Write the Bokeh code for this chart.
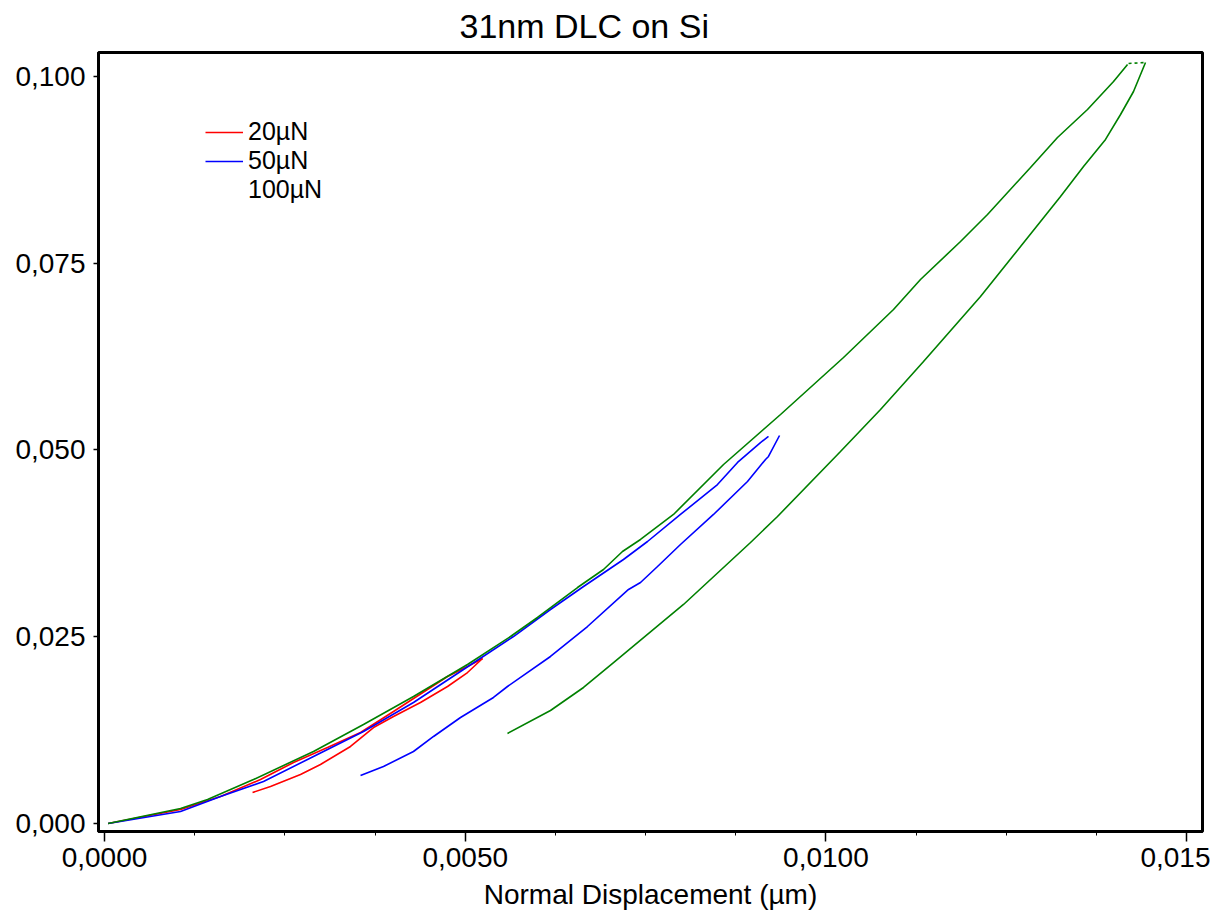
from bokeh.plotting import figure
from bokeh.models import Range1d, FixedTicker, CustomJSTickFormatter, Legend, LegendItem, Title
from bokeh.embed import file_html
from bokeh.resources import INLINE

# ---- data ----
# 100 uN (green)
g_load_x = [0.00005, 0.001054, 0.001428, 0.002065, 0.002897, 0.003590, 0.004283, 0.005032,
            0.005628, 0.006002, 0.006557, 0.006917, 0.007180, 0.007430, 0.007887, 0.008581,
            0.009371, 0.010244, 0.010937, 0.011311, 0.011866, 0.012240, 0.012836, 0.013210,
            0.013626, 0.013987, 0.014181]
g_load_y = [0.0, 0.00201, 0.00321, 0.00589, 0.00964, 0.01325, 0.01700, 0.02129,
            0.02503, 0.02758, 0.03159, 0.03400, 0.03641, 0.03802, 0.04137, 0.04806,
            0.05475, 0.06238, 0.06881, 0.07282, 0.07791, 0.08153, 0.08782, 0.09183,
            0.09558, 0.09933, 0.10161]
g_hold_x = [0.014195, 0.014430]
g_hold_y = [0.10174, 0.10187]
g_unload_x = [0.014430, 0.014264, 0.014084, 0.013876, 0.013571, 0.013252, 0.012698, 0.012143,
              0.011353, 0.010757, 0.010202, 0.009329, 0.008955, 0.008026, 0.007056, 0.006640,
              0.006182, 0.005586]
g_unload_y = [0.10187, 0.09799, 0.09491, 0.09157, 0.08795, 0.08394, 0.07724, 0.07055,
              0.06185, 0.05542, 0.04980, 0.04110, 0.03762, 0.02932, 0.02155, 0.01821,
              0.01513, 0.01205]

# 50 uN (blue)
b_load_x = [0.00005, 0.001054, 0.001608, 0.002204, 0.002897, 0.003590, 0.004283, 0.004976,
            0.005669, 0.006182, 0.006640, 0.007194, 0.007527, 0.007984, 0.008497, 0.008775,
            0.009093, 0.009204]
b_load_y = [0.0, 0.00161, 0.00361, 0.00562, 0.00897, 0.01232, 0.01620, 0.02062,
            0.02503, 0.02865, 0.03173, 0.03534, 0.03775, 0.04137, 0.04538, 0.04833,
            0.05100, 0.05181]
b_unload_x = [0.009357, 0.009204, 0.009163, 0.008913, 0.008442, 0.007984, 0.007666, 0.007430,
              0.007264, 0.006695, 0.006182, 0.005586, 0.005392, 0.004935, 0.004561, 0.004283,
              0.003867, 0.003549]
b_unload_y = [0.05194, 0.04913, 0.04873, 0.04578, 0.04137, 0.03735, 0.03440, 0.03226,
              0.03133, 0.02637, 0.02236, 0.01834, 0.01687, 0.01419, 0.01165, 0.00964,
              0.00763, 0.00643]

# 20 uN (red)
r_load_x = [0.00005, 0.001054, 0.001608, 0.002162, 0.002620, 0.003091, 0.003549, 0.004006,
            0.004477, 0.004755, 0.005032, 0.005240]
r_load_y = [0.0, 0.00187, 0.00361, 0.00589, 0.00817, 0.01017, 0.01218, 0.01499,
            0.01794, 0.01968, 0.02102, 0.02209]
r_unload_x = [0.005240, 0.005032, 0.004755, 0.004380, 0.004006, 0.003729, 0.003410, 0.002994,
              0.002717, 0.002301, 0.002052]
r_unload_y = [0.02209, 0.02021, 0.01834, 0.01620, 0.01432, 0.01285, 0.01031, 0.00790,
              0.00656, 0.00495, 0.00415]

series_labels = ["20µN", "50µN", "100µN"]
x_ticks = [0.0, 0.005, 0.01, 0.015]
x_tick_labels = ["0,0000", "0,0050", "0,0100", "0,015"]
y_ticks = [0.0, 0.025, 0.05, 0.075, 0.1]
y_tick_labels = ["0,000", "0,025", "0,050", "0,075", "0,100"]
title_text = "31nm DLC on Si"
x_label_text = "Normal Displacement (µm)"

RED = "#ff0000"
BLUE = "#0000ff"
GREEN = "#008000"
FONT = "Liberation Sans"

FW, FH = 1104, 779           # frame size
BL, BT, BR, BB = 98, 52, 8, 81
p = figure(width=BL + FW + BR, height=BT + FH + BB, output_backend="svg", toolbar_location=None,
           x_range=Range1d(-0.0000832, 0.01522), y_range=Range1d(-0.00107, 0.10321),
           min_border_left=BL, min_border_right=BR, min_border_top=BT, min_border_bottom=BB,
           title=None)
p.grid.visible = False
p.background_fill_color = "white"
p.outline_line_color = "black"
p.outline_line_width = 3
p.outline_line_alpha = 1.0

# a thin blank spacer next to the frame, then the real title above it
p.add_layout(Title(text=" ", text_font=FONT, text_font_size="6px", standoff=0), "above")
p.add_layout(Title(text=title_text, text_font=FONT, text_font_size="34px",
                   text_font_style="normal", text_color="black", align="left",
                   offset=361, standoff=0), "above")

lw = 1.6
rl1 = p.line(r_load_x, r_load_y, line_color=RED, line_width=lw)
p.line(r_unload_x, r_unload_y, line_color=RED, line_width=lw)
bl1 = p.line(b_load_x, b_load_y, line_color=BLUE, line_width=lw)
p.line(b_unload_x, b_unload_y, line_color=BLUE, line_width=lw)
p.line(g_load_x, g_load_y, line_color=GREEN, line_width=lw)
p.line(g_hold_x, g_hold_y, line_color=GREEN, line_width=lw, line_dash="3 3")
p.line(g_unload_x, g_unload_y, line_color=GREEN, line_width=lw)
dummy = p.line([], [], line_color=GREEN, line_alpha=0.0)

# axes
xa = p.xaxis[0]
xa.ticker = FixedTicker(ticks=x_ticks, minor_ticks=[i * 0.00125 for i in range(13)])
xa.formatter = CustomJSTickFormatter(args=dict(t=x_ticks, l=x_tick_labels), code="""
    for (let i = 0; i < t.length; i++) { if (Math.abs(tick - t[i]) < 1e-9) return l[i]; }
    return '';
""")
xa.axis_label = x_label_text
ya = p.yaxis[0]
ya.ticker = FixedTicker(ticks=y_ticks, minor_ticks=[])
ya.formatter = CustomJSTickFormatter(args=dict(t=y_ticks, l=y_tick_labels), code="""
    for (let i = 0; i < t.length; i++) { if (Math.abs(tick - t[i]) < 1e-9) return l[i]; }
    return '';
""")
for ax in (xa, ya):
    ax.axis_line_width = 3
    ax.axis_line_color = "black"
    ax.major_tick_line_color = "black"
    ax.major_tick_line_width = 1.5
    ax.minor_tick_line_color = "black"
    ax.minor_tick_line_width = 1
    ax.major_tick_in = 0
    ax.minor_tick_in = 0
    ax.major_label_text_font = FONT
    ax.major_label_text_font_size = "28px"
    ax.major_label_text_color = "black"
    ax.axis_label_text_font = FONT
    ax.axis_label_text_font_size = "28px"
    ax.axis_label_text_font_style = "normal"
    ax.axis_label_text_color = "black"
xa.major_tick_out = 10
xa.minor_tick_out = 4
xa.major_label_standoff = 6
xa.axis_label_standoff = 9
ya.major_tick_out = 5
ya.minor_tick_out = 0
ya.major_label_standoff = 8

legend = Legend(items=[
    LegendItem(label=series_labels[0], renderers=[rl1]),
    LegendItem(label=series_labels[1], renderers=[bl1]),
    LegendItem(label=series_labels[2], renderers=[dummy]),
], location=(107, 627))
legend.border_line_alpha = 0
legend.background_fill_alpha = 0
legend.padding = 0
legend.margin = 0
legend.spacing = 0
legend.glyph_width = 38
legend.glyph_height = 28
legend.label_height = 28
legend.label_standoff = 5
legend.label_text_font = FONT
legend.label_text_font_size = "25px"
legend.label_text_color = "black"
p.add_layout(legend, "center")

open("out.html", "w").write(file_html(p, INLINE))
